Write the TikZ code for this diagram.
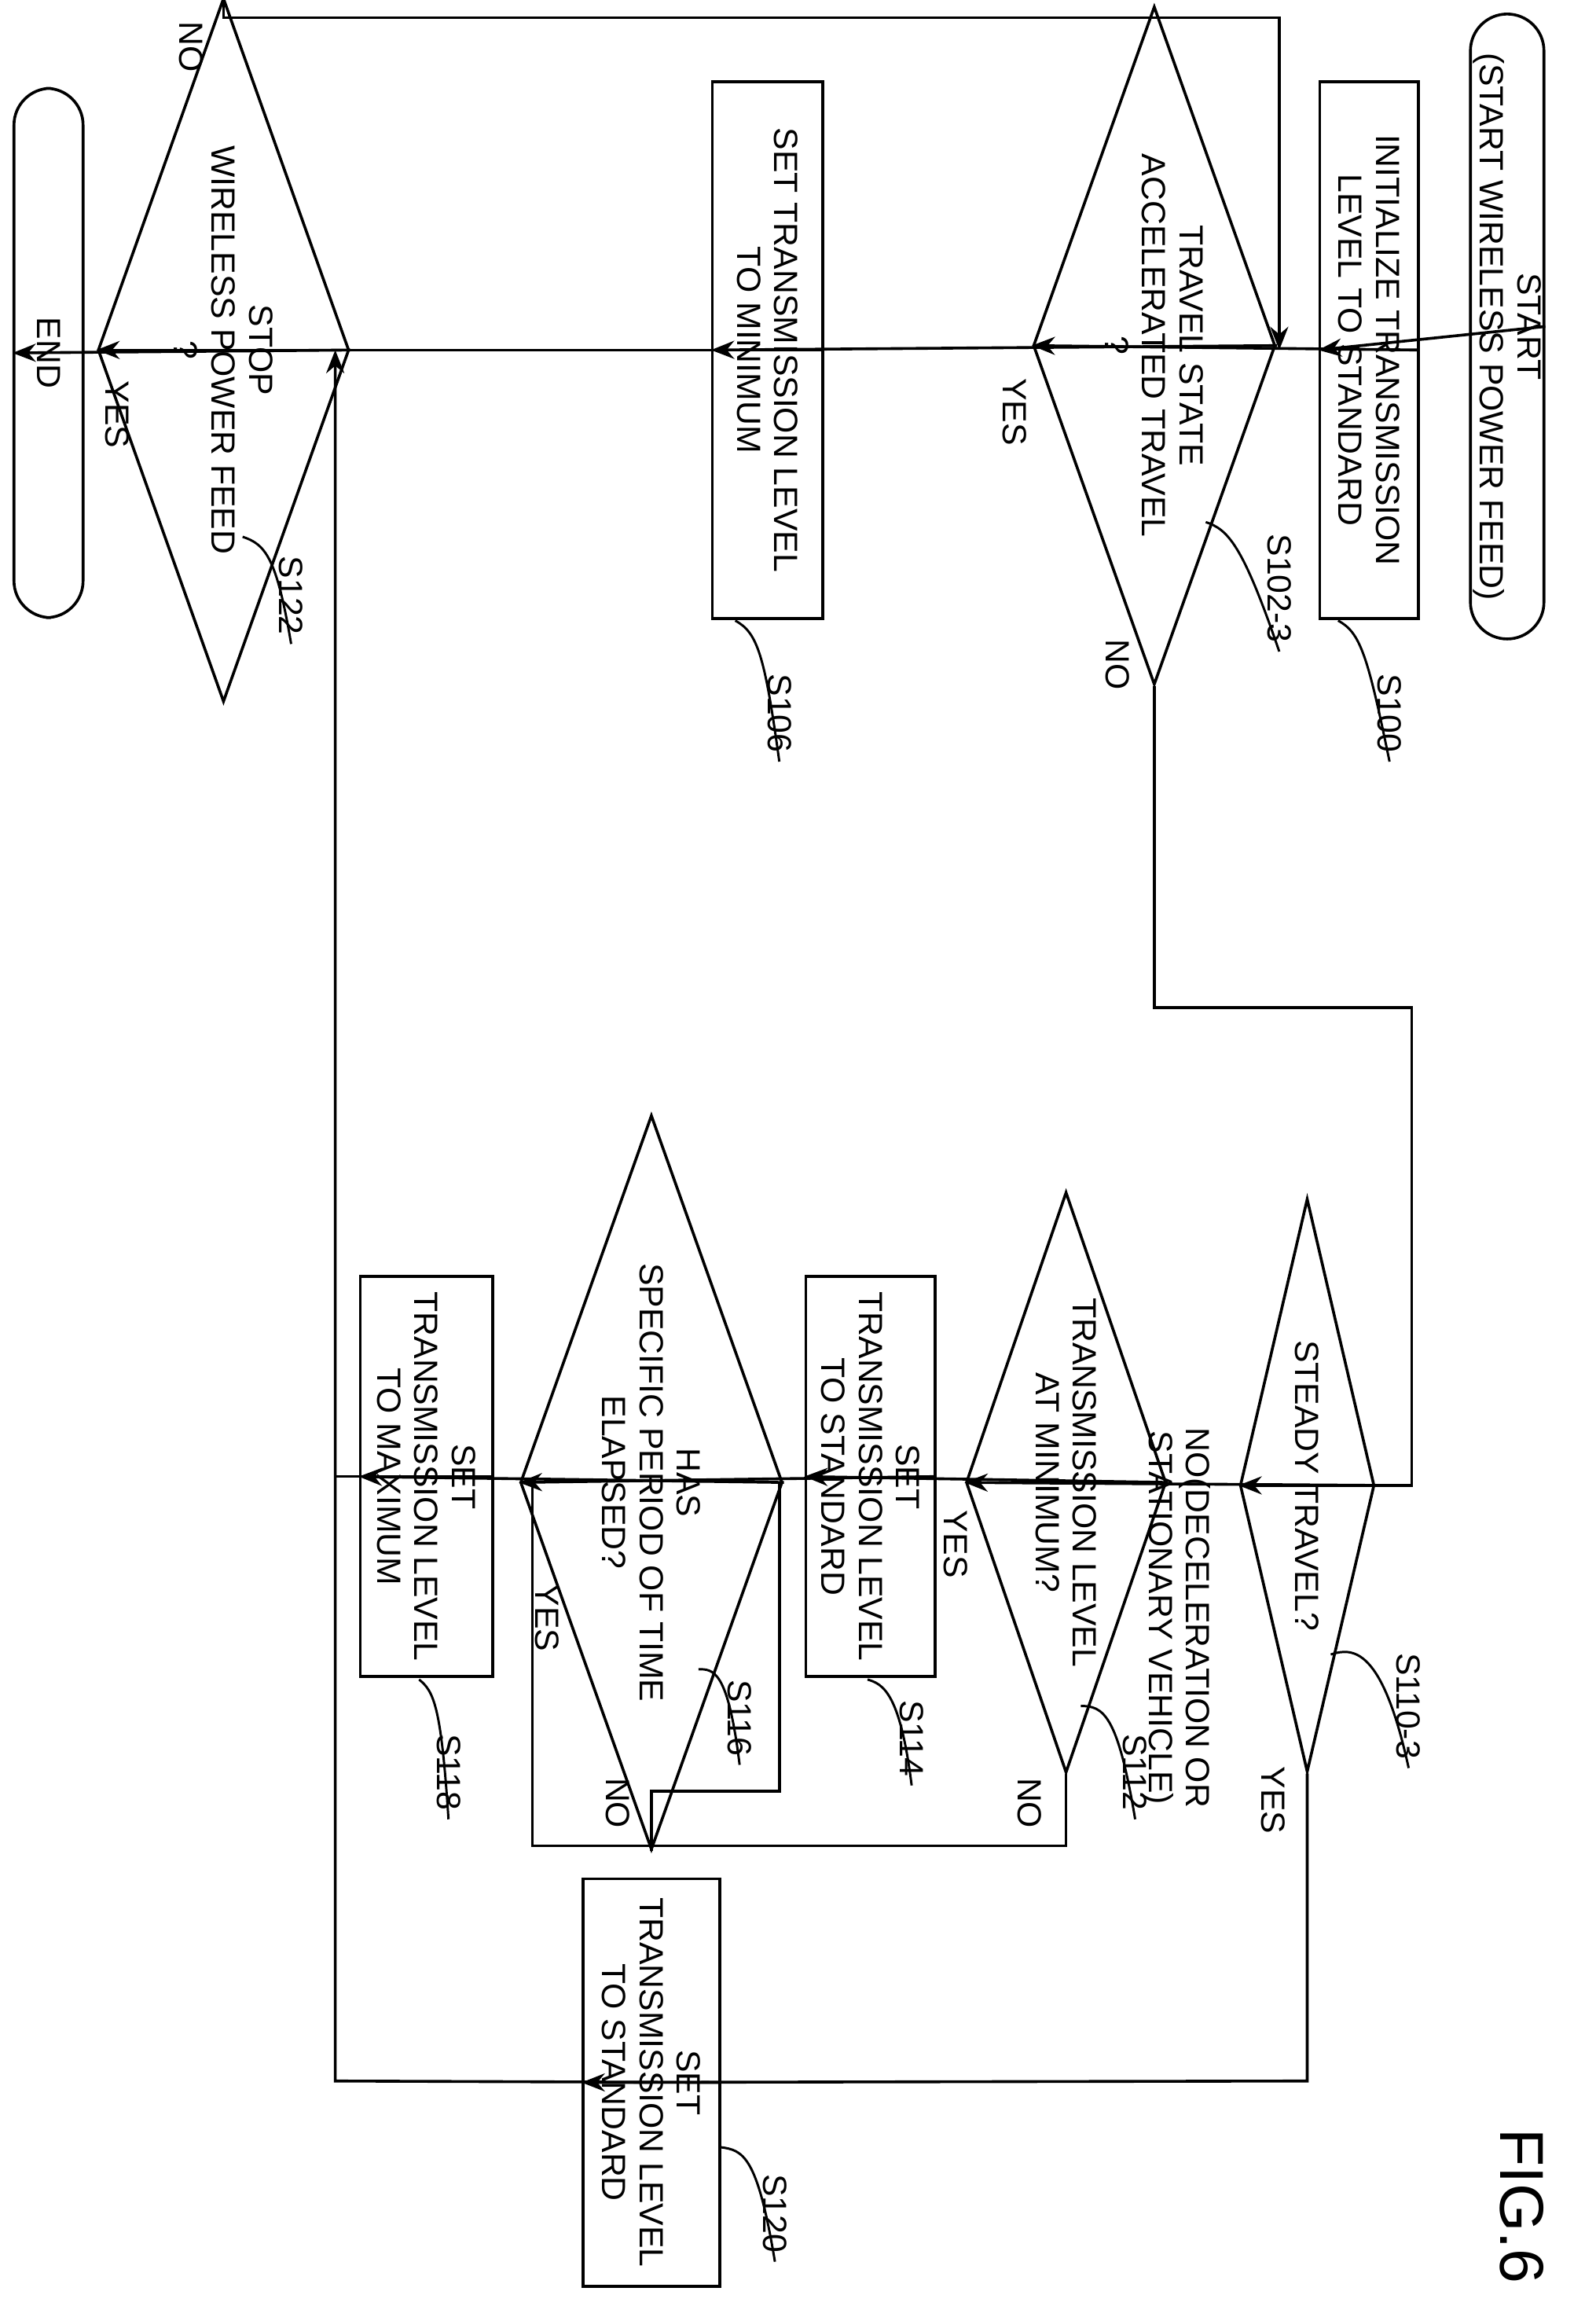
\documentclass[tikz,border=0pt]{standalone}
\usepackage{fontspec}
\setmainfont{Liberation Sans}
\usetikzlibrary{shapes.geometric,arrows.meta}
\tikzset{
  base/.style={draw,line width=1.1pt,rotate=-90,align=center,font=\fontsize{13}{14.5}\selectfont,inner sep=1pt},
  proc/.style={base,rectangle},
  term/.style={base,rectangle,rounded corners=0.5cm},
  dec/.style={base,diamond,aspect=2.8},
  lbl/.style={rotate=-90,font=\fontsize{13}{14.5}\selectfont,align=center},
  flow/.style={line width=1.1pt,-{Stealth[length=9pt,width=7pt]}},
  line/.style={line width=1.1pt},
  tag/.style={line width=0.9pt}
}
\begin{document}
\begin{tikzpicture}[x=0.02cm,y=-0.02cm]
\useasboundingbox (0,0) rectangle (1085,1568);
% main column
\node[term,minimum width=425\pgflinewidth*0+8.5cm,minimum height=1cm] (start) at (1025,222) {START\\(START WIRELESS POWER FEED)};
\node[proc,minimum width=7.3cm,minimum height=1.34cm] (s100) at (931,238) {INITIALIZE TRANSMISSION\\LEVEL TO STANDARD};
\node[dec,minimum width=8cm,minimum height=2.8cm] (s102) at (785,235) {TRAVEL STATE\\ACCELERATED TRAVEL\\?};
\node[proc,minimum width=7.3cm,minimum height=1.5cm] (s106) at (522,238) {SET TRANSMISSION LEVEL\\TO MINIMUM};
\node[dec,minimum width=7.9cm,minimum height=2.3cm] (s122) at (152,238) {STOP\\WIRELESS POWER FEED\\?};
\node[term,minimum width=7.2cm,minimum height=0.94cm] (end) at (33,240) {END};
% second column
\node[dec,minimum width=7.8cm,minimum height=1.64cm] (s110) at (889,1010) {STEADY TRAVEL?};
\node[dec,minimum width=7.9cm,minimum height=2.6cm] (s112) at (725,1008) {TRANSMISSION LEVEL\\AT MINIMUM?};
\node[proc,minimum width=5.44cm,minimum height=1.76cm] (s114) at (592,1004) {SET\\TRANSMISSION LEVEL\\TO STANDARD};
\node[dec,minimum width=7.9cm,minimum height=2.74cm] (s116) at (443,1008) {HAS\\SPECIFIC PERIOD OF TIME\\ELAPSED?};
\node[proc,minimum width=5.44cm,minimum height=1.8cm] (s118) at (290,1004) {SET\\TRANSMISSION LEVEL\\TO MAXIMUM};
\node[proc,minimum width=5.54cm,minimum height=1.86cm] (s120) at (443,1416) {SET\\TRANSMISSION LEVEL\\TO STANDARD};
% junction points
\coordinate (j1) at (870,238);
\coordinate (j2) at (228,238);
\coordinate (j3) at (345,1008);
\coordinate (j4) at (522,1008);
% connectors
\draw[flow] (start.north) -- (s100.south);
\draw[flow] (s100.north) -- (s102.south);
\draw[flow] (s102.north) -- (s106.south);
\draw[flow] (s106.north) -- (s122.south);
\draw[flow] (s122.north) -- (end.south);
\draw[flow] (s122.west) -- (152,12) -- (870,12) -- (j1);
\draw[flow] (s102.east) -- (785,685) -- (960,685) -- (960,1010) -- (s110.south);
\draw[flow] (s110.north) -- (s112.south);
\draw[flow] (s110.east) -- (889,1415) -- (s120.south);
\draw[flow] (s112.north) -- (s114.south);
\draw[line] (s112.east) -- (725,1255) -- (362,1255) -- (362,1008);
\draw[flow] (s114.north) -- (s116.south);
\draw[line] (s116.east) -- (443,1218) -- (530,1218) -- (530,1008);
\draw[flow] (s116.north) -- (s118.south);
\draw[line] (s118.north) -- (228,1004);
\draw[flow] (s120.north) -- (228,1415) -- (j2);
% branch labels
\node[lbl] (yes1) at (690,280) {YES};
\node[lbl] (no1) at (760,452) {NO};
\node[lbl] (yes2) at (80,282) {YES};
\node[lbl] (no2) at (130,32) {NO};
\node[lbl] (no3) at (800,1100) {NO(DECELERATION OR\\STATIONARY VEHICLE)};
\node[lbl] (yes3) at (866,1224) {YES};
\node[lbl] (yes4) at (650,1050) {YES};
\node[lbl] (no4) at (700,1226) {NO};
\node[lbl] (no5) at (420,1226) {NO};
\node[lbl] (yes5) at (372,1100) {YES};
% step tags
\node[lbl] (t100) at (945,485) {S100};
\node[lbl] (t102) at (870,400) {S102-3};
\node[lbl] (t106) at (530,485) {S106};
\node[lbl] (t122) at (198,405) {S122};
\node[lbl] (t110) at (958,1160) {S110-3};
\node[lbl] (t112) at (772,1205) {S112};
\node[lbl] (t114) at (620,1182) {S114};
\node[lbl] (t116) at (503,1168) {S116};
\node[lbl] (t118) at (305,1205) {S118};
\node[lbl] (t120) at (527,1505) {S120};
\draw[tag] (910,422) .. controls (925,430) and (930,445) .. (t100.east);
\draw[tag] (820,355) .. controls (835,360) and (845,370) .. (t102.east);
\draw[tag] (500,422) .. controls (515,430) and (520,445) .. (t106.east);
\draw[tag] (165,365) .. controls (180,370) and (188,378) .. (t122.east);
\draw[tag] (905,1125) .. controls (920,1120) and (940,1120) .. (t110.east);
\draw[tag] (735,1160) .. controls (750,1160) and (760,1165) .. (t112.east);
\draw[tag] (590,1142) .. controls (600,1145) and (612,1150) .. (t114.east);
\draw[tag] (475,1135) .. controls (485,1135) and (495,1135) .. (t116.east);
\draw[tag] (285,1142) .. controls (295,1150) and (300,1160) .. (t118.east);
\draw[tag] (490,1460) .. controls (505,1462) and (515,1465) .. (t120.east);
\node[rotate=-90,font=\fontsize{24}{26}\selectfont] (fig) at (1035,1500) {FIG.6};
\end{tikzpicture}
\end{document}
